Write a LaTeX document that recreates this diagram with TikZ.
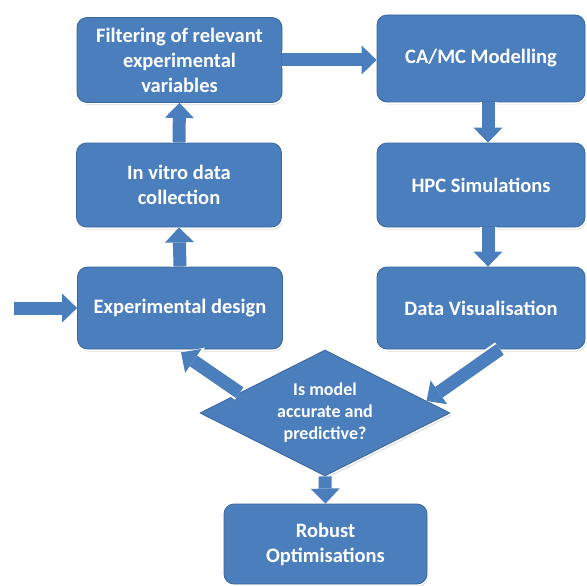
\documentclass[tikz,border=0pt]{standalone}
\usepackage{fontspec}
\setmainfont{Carlito}
\usetikzlibrary{shapes.geometric,arrows.meta,shadows,calc}
\definecolor{boxblue}{HTML}{4A7EBD}
\definecolor{boxedge}{HTML}{3A669C}
\begin{document}
\begin{tikzpicture}[x=1pt,y=-1pt,
  box/.style={rectangle, rounded corners=10pt, fill=boxblue, draw=boxedge, line width=0.8pt,
    text=white, font=\bfseries\fontsize{20.5}{25}\selectfont, align=center, inner sep=0pt,
    drop shadow={opacity=0.3, shadow xshift=1.5pt, shadow yshift=-2.5pt},
    preaction={draw=white, line width=4pt}},
  decision/.style={diamond, aspect=2, fill=boxblue, draw=boxedge, line width=0.8pt,
    text=white, font=\bfseries\fontsize{18}{22}\selectfont, align=center, inner sep=0pt,
    minimum width=250pt, minimum height=126pt,
    drop shadow={opacity=0.3, shadow xshift=1.5pt, shadow yshift=-2.5pt},
    preaction={draw=white, line width=4pt}},
  fat/.style={draw=boxblue, line width=13pt,
    -{Triangle[length=15pt,width=29pt,line width=0pt]},
    preaction={draw=white, line width=17pt, -{Triangle[length=17pt,width=35pt,line width=0pt]}}}
]
\useasboundingbox[fill=white] (0,0) rectangle (587,586);

\node[box, minimum width=205pt, minimum height=85pt] (filt) at (179.5,60)
  {Filtering of relevant\\experimental\\variables};
\node[box, minimum width=205pt, minimum height=84pt] (vitro) at (179,185)
  {In vitro data\\collection};
\node[box, minimum width=205pt, minimum height=82pt] (exp) at (180,308)
  {Experimental design};
\node[box, minimum width=208pt, minimum height=87pt] (ca) at (481,58.5)
  {CA/MC Modelling};
\node[box, minimum width=208pt, minimum height=84pt] (hpc) at (481,185)
  {HPC Simulations};
\node[box, minimum width=208pt, minimum height=82pt] (dv) at (481,308)
  {Data Visualisation};
\node[decision] (dec) at (325,413) {Is model\\accurate and\\predictive?};
\node[box, minimum width=203pt, minimum height=80pt] (rob) at (325.5,544)
  {Robust\\Optimisations};

\coordinate (start) at (14,308);

\draw[fat] (filt.east) -- (filt.east -| ca.west);
\draw[fat] (vitro.north) -- (filt.south);
\draw[fat] (exp.north) -- (vitro.south);
\draw[fat] ($(ca.south)+(7,0)$) -- ($(hpc.north)+(7,0)$);
\draw[fat] ($(hpc.south)+(7,0)$) -- ($(dv.north)+(7,0)$);
\draw[fat] (start) -- (exp.west);
\draw[fat] ($(dec.west)!0.32!(dec.north)$) -- ($(exp.south)+(1,3)$);
\draw[fat] ($(dv.south)+(19,0)$) -- ($(dec.north east)!0.62!(dec.east)$);
\draw[fat] (dec.south) -- (rob.north);
\end{tikzpicture}
\end{document}
